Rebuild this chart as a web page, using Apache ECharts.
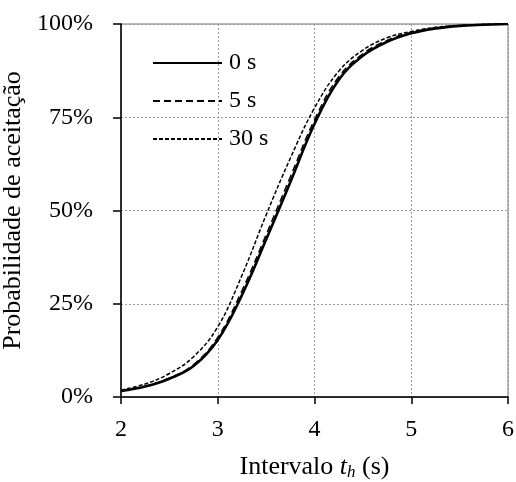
<!DOCTYPE html>
<html><head><meta charset="utf-8">
<script src="https://cdn.jsdelivr.net/npm/echarts@6/dist/echarts.min.js"></script>
<style>html,body{margin:0;padding:0;background:#fff}#c{width:516px;height:482px}</style>
</head><body><div id="c"></div>
<script>
var xs = [2, 2.25, 2.5, 2.75, 3, 3.25, 3.5, 3.75, 4, 4.25, 4.5, 4.75, 5, 5.25, 5.5, 5.75, 6];
var s0  = [1.6, 2.8, 4.9, 8.3, 15.3, 27.3, 42.2, 57.6, 73.2, 85.0, 91.5, 95.2, 97.5, 98.8, 99.5, 99.8, 100];
var s5  = [1.7, 2.9, 5.1, 8.7, 16.0, 28.5, 43.5, 59.0, 74.3, 85.8, 92.0, 95.6, 97.7, 98.9, 99.6, 99.85, 100];
var s30 = [1.9, 3.5, 6.3, 10.8, 18.8, 32.6, 48.8, 64.0, 77.5, 87.3, 93.0, 96.3, 98.0, 99.1, 99.6, 99.9, 100];
var seriesNames = ['0 s', '5 s', '30 s'];
var yTicks = ['0%', '25%', '50%', '75%', '100%'];

function pairs(ys){ return xs.map(function(x,i){ return [x, ys[i]]; }); }
var font = 'Liberation Serif';
var chart = echarts.init(document.getElementById('c'));
chart.setOption({
  animation: false,
  grid: {left: 121, top: 24, right: 8, bottom: 85, show: true, borderColor: '#777', borderWidth: 1,
         containLabel: false, outerBoundsMode: 'none'},
  legend: {
    left: 147, top: 46, orient: 'vertical', itemGap: 14, itemWidth: 69, itemHeight: 26,
    itemStyle: {opacity: 0, color: 'transparent', borderWidth: 0},
    textStyle: {fontFamily: font, fontSize: 24, color: '#000', padding: [0,0,0,2]},
    data: seriesNames
  },
  xAxis: {
    type: 'value', min: 2, max: 6, interval: 1,
    name: '{n|Intervalo }{i|t}{s|h}{n| (s)}', nameLocation: 'middle', nameGap: 57,
    nameTextStyle: {rich: {
      n: {fontFamily: font, fontSize: 26, color: '#000'},
      i: {fontFamily: font, fontSize: 26, fontStyle: 'italic', color: '#000'},
      s: {fontFamily: font, fontSize: 17, fontStyle: 'italic', color: '#000', verticalAlign: 'bottom', padding: [10,0,0,0]}
    }},
    axisLine: {lineStyle: {color: '#000', width: 1.5}},
    axisTick: {show: true, inside: false, length: 7, lineStyle: {color: '#000', width: 1.5}},
    axisLabel: {fontFamily: font, fontSize: 24, color: '#000', margin: 21},
    splitLine: {show: true, lineStyle: {color: '#999', type: [2, 2], width: 1}}
  },
  yAxis: {
    type: 'value', min: 0, max: 100, interval: 25,
    name: 'Probabilidade de aceitação', nameLocation: 'middle', nameGap: 85,
    nameTextStyle: {fontFamily: font, fontSize: 26, color: '#000'},
    axisLine: {show: true, lineStyle: {color: '#000', width: 1.5}},
    axisTick: {show: true, inside: false, length: 8, lineStyle: {color: '#000', width: 1.5}},
    axisLabel: {fontFamily: font, fontSize: 24, color: '#000', margin: 28,
      formatter: function(v){ return yTicks[Math.round(v/25)]; }},
    splitLine: {show: true, lineStyle: {color: '#999', type: [2, 2], width: 1}}
  },
  series: [
    {name: seriesNames[0], type: 'line', data: pairs(s0), smooth: 0.4, symbol: 'none', z: 3,
      lineStyle: {color: '#000', width: 2.6, type: 'solid'}, itemStyle: {color: '#000'}},
    {name: seriesNames[1], type: 'line', data: pairs(s5), smooth: 0.4, symbol: 'none', z: 4,
      lineStyle: {color: '#000', width: 1.5, type: [7, 4]}, itemStyle: {color: '#000'}},
    {name: seriesNames[2], type: 'line', data: pairs(s30), smooth: 0.4, symbol: 'none', z: 4,
      lineStyle: {color: '#000', width: 1.5, type: [4, 2]}, itemStyle: {color: '#000'}}
  ]
});
</script></body></html>
